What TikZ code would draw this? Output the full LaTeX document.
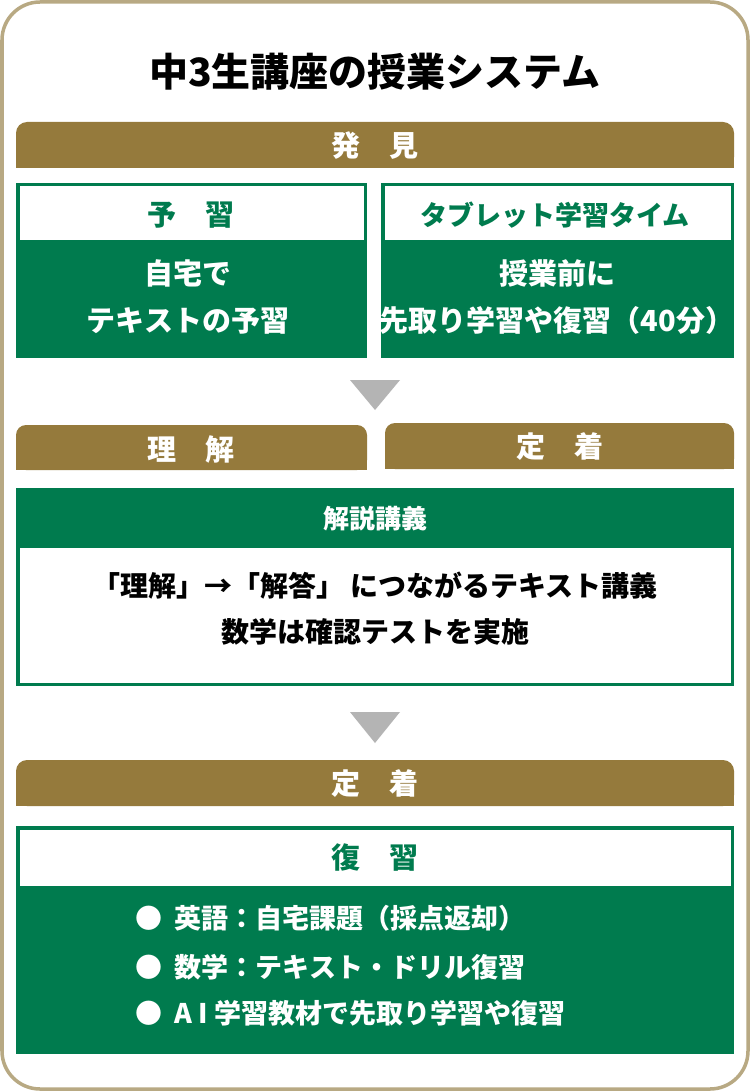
\documentclass[tikz,border=0pt]{standalone}
\usepackage{fontspec}
\setmainfont{Noto Sans CJK JP}
\definecolor{gold}{HTML}{957A3C}
\definecolor{frame}{HTML}{B8A983}
\definecolor{grn}{HTML}{007B4E}
\definecolor{tri}{HTML}{B4B4B4}
\begin{document}
\begin{tikzpicture}[x=1pt,y=-1pt,
  goldbar/.style={fill=gold},
  gtxt/.style={text=white,font=\bfseries\fontsize{29}{34}\selectfont},
  htxt/.style={text=grn,font=\bfseries\fontsize{29}{34}\selectfont},
  btxt/.style={font=\bfseries\fontsize{29}{47}\selectfont},
  arrowtri/.style={fill=tri}]
\useasboundingbox (0,0) rectangle (750,1091);
\draw[frame,line width=3.5pt,fill=white,rounded corners=38] (2,2) rectangle (748,1089);
\node[font=\bfseries\fontsize{39}{44}\selectfont] (title) at (375,72) {中3生講座の授業システム};
% 発見
\fill[goldbar,rounded corners=11] (16,168) -- (16,122) -- (734,122) -- (734,168) -- cycle;
\fill[gold] (16,150) rectangle (734,168);
\node[gtxt] (hakken) at (375,146) {発\quad 見};
% left box
\fill[grn] (16,183) rectangle (367,358);
\fill[white] (19.5,186.5) rectangle (363.5,240);
\node[htxt] (yoshu) at (191,215) {予\quad 習};
\node[btxt,text=white,align=center] (lb) at (188,297) {自宅で\\テキストの予習};
% right box
\fill[grn] (381,183) rectangle (734,358);
\fill[white] (384.5,186.5) rectangle (730.5,240);
\node[htxt,font=\bfseries\fontsize{27}{32}\selectfont] (tab) at (555,215) {タブレット学習タイム};
\node[btxt,text=white,align=center] (rb) at (557,297) {授業前に\\先取り学習や復習（40分）};
% triangle
\fill[arrowtri] (350,380) -- (400,380) -- (375,410) -- cycle;
% tabs
\fill[goldbar,rounded corners=10] (16,470) -- (16,425) -- (367,425) -- (367,470) -- cycle;
\fill[gold] (16,450) rectangle (367,470);
\node[gtxt] (rikai) at (191,449) {理\quad 解};
\fill[goldbar,rounded corners=10] (385,469) -- (385,423) -- (734,423) -- (734,469) -- cycle;
\fill[gold] (385,450) rectangle (734,469);
\node[gtxt] (teichaku1) at (560,447) {定\quad 着};
% kaisetsu
\fill[grn] (16,488) rectangle (734,686);
\fill[white] (19.5,548) rectangle (730.5,682.5);
\node[gtxt,font=\bfseries\fontsize{26}{30}\selectfont] (kk) at (375,519) {解説講義};
\node[btxt,font=\bfseries\fontsize{28}{46}\selectfont,align=center] (kb) at (375,609) {「理解」→「解答」 につながるテキスト講義\\数学は確認テストを実施};
% triangle 2
\fill[arrowtri] (350,712) -- (400,712) -- (375,743) -- cycle;
% teichaku
\fill[goldbar,rounded corners=11] (16,806) -- (16,760) -- (734,760) -- (734,806) -- cycle;
\fill[gold] (16,785) rectangle (734,806);
\node[gtxt] (teichaku2) at (375,784) {定\quad 着};
% fukushu
\fill[grn] (16,826) rectangle (734,1054);
\fill[white] (19.5,829.5) rectangle (730.5,886);
\node[htxt] (fk) at (375,857) {復\quad 習};
\node[btxt,font=\bfseries\fontsize{27}{32}\selectfont,text=white,anchor=west] (b1) at (132,918) {●\ \ 英語：自宅課題（採点返却）};
\node[btxt,font=\bfseries\fontsize{27}{32}\selectfont,text=white,anchor=west] (b2) at (132,967) {●\ \ 数学：テキスト・ドリル復習};
\node[btxt,font=\bfseries\fontsize{27}{32}\selectfont,text=white,anchor=west] (b3) at (132,1013) {●\ \ A I 学習教材で先取り学習や復習};
\end{tikzpicture}
\end{document}
